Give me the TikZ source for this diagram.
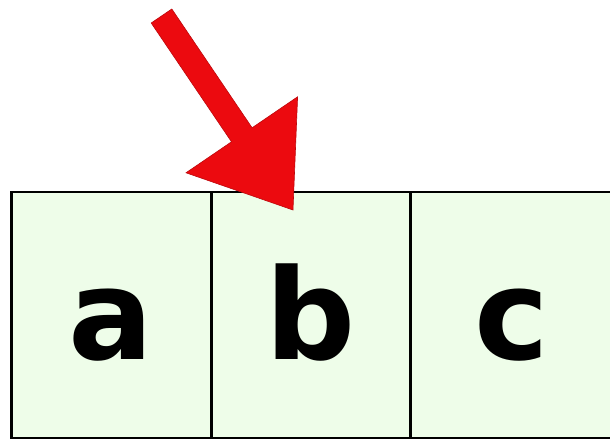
\documentclass[tikz,border=0pt]{standalone}
\usepackage{fontspec}
\setmainfont{DejaVu Sans}
\definecolor{cellfill}{HTML}{EEFDE9}
\definecolor{arrowred}{HTML}{EC0A0F}
\tikzset{
  cell/.style={draw=black, line width=2.8pt, fill=cellfill, rectangle,
    minimum width=199.5pt, minimum height=246pt, inner sep=0pt, outer sep=0pt,
    text height=88pt, text depth=0pt, font=\fontsize{126}{126}\selectfont\bfseries},
  bigarrow/.style={fill=arrowred, draw=arrowred!80!black, line width=0.6pt, line join=miter}
}
\begin{document}
\begin{tikzpicture}[x=1pt,y=-1pt]
\useasboundingbox (0,0) rectangle (610,441);
\clip (0,0) rectangle (610,441);
\node[cell] (a) at (111.5,315) {a};
\node[cell] (b) at (311,315) {b};
\node[cell, minimum width=203pt] (c) at (512.3,315) {c};
\coordinate (tail) at (161.5,16);
\coordinate (tip) at (293,210);
\draw[bigarrow] (151.2,23.0) -- (171.8,9.0) -- (252.1,127.8) -- (297.6,96.8)
  -- (tip) -- (186.0,172.8) -- (231.5,141.8) -- cycle;
\end{tikzpicture}
\end{document}
